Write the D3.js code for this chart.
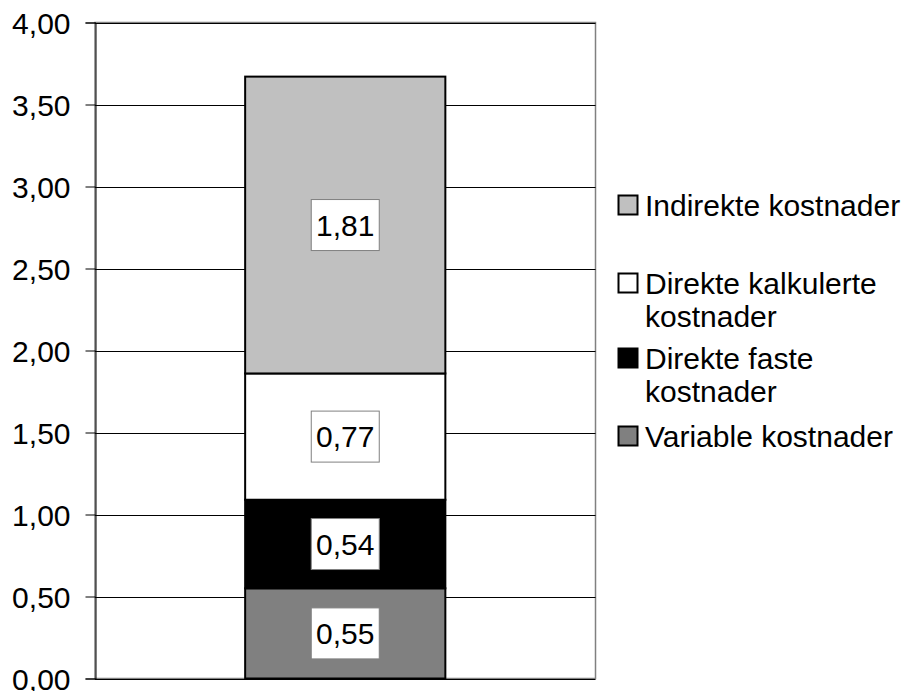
<!DOCTYPE html>
<html>
<head>
<meta charset="utf-8">
<script src="https://cdn.jsdelivr.net/npm/d3@7"></script>
<style>
  html, body { margin: 0; padding: 0; background: #fff; }
  svg { display: block; font-family: "Liberation Sans", Arial, sans-serif; }
</style>
</head>
<body>
<svg id="chart" width="903" height="691"></svg>
<script>
// Cost components, stacked bottom to top
const categories = ["Variable kostnader", "Direkte faste kostnader", "Direkte kalkulerte kostnader", "Indirekte kostnader"];
const values = [0.55, 0.54, 0.77, 1.81];
const colors = ["#808080", "#000000", "#ffffff", "#c0c0c0"];
// Legend lines, top to bottom (wrapped as drawn)
const legendOrder = [3, 2, 1, 0];
const legendLines = [["Indirekte kostnader"], ["Direkte kalkulerte", "kostnader"], ["Direkte faste", "kostnader"], ["Variable kostnader"]];
const yTicks = [0, 0.5, 1, 1.5, 2, 2.5, 3, 3.5, 4];
const group = ["Total"];

const FONT = 30;
const svg = d3.select("#chart");
const margin = { left: 95, right: 595.5, top: 22.5, bottom: 678.5 };

const locale = d3.formatLocale({ decimal: ",", thousands: " ", grouping: [3], currency: ["", " kr"] });
const fmt = locale.format(".2f");

const y = d3.scaleLinear().domain([0, 4]).range([margin.bottom, margin.top]);
const x = d3.scaleBand().domain(group).range([margin.left, margin.right]).paddingInner(0).paddingOuter(0.75);

// Plot frame
svg.append("rect")
  .attr("x", margin.left).attr("y", margin.top)
  .attr("width", margin.right - margin.left).attr("height", margin.bottom - margin.top)
  .attr("fill", "#fff").attr("stroke", "#808080").attr("stroke-width", 1.5);

// Gridlines
svg.append("g").selectAll("line").data(yTicks).join("line")
  .attr("x1", margin.left).attr("x2", margin.right)
  .attr("y1", d => Math.round(y(d)) + 0.5).attr("y2", d => Math.round(y(d)) + 0.5)
  .attr("stroke", "#000").attr("stroke-width", 1);

// Y axis
const yAxis = d3.axisLeft(y).tickValues(yTicks).tickFormat(fmt).tickSize(10).tickPadding(15);
const gy = svg.append("g").attr("transform", `translate(${margin.left + 0.5},0)`).call(yAxis);
gy.select(".domain").attr("stroke", "#000").attr("stroke-width", 1);
gy.selectAll(".tick line").attr("stroke", "#000");
gy.selectAll(".tick text")
  .attr("font-size", FONT).attr("fill", "#000")
  .attr("font-family", "'Liberation Sans', Arial, sans-serif")
  .attr("dy", "0.35em");

// Stacked segments
let acc = 0;
const segs = values.map((v, i) => { const s = { i, y0: acc, y1: acc + v, v }; acc += v; return s; });

const bars = svg.append("g");
bars.selectAll("rect").data(segs).join("rect")
  .attr("x", x("Total"))
  .attr("width", x.bandwidth())
  .attr("y", d => y(d.y1))
  .attr("height", d => y(d.y0) - y(d.y1))
  .attr("fill", d => colors[d.i])
  .attr("stroke", "#000").attr("stroke-width", 2);

// Value labels in boxes
const boxW = 68, boxH = 51;
const lab = svg.append("g").selectAll("g").data(segs).join("g")
  .attr("transform", d => `translate(${x("Total") + x.bandwidth() / 2},${(y(d.y0) + y(d.y1)) / 2})`);
lab.append("rect")
  .attr("x", -boxW / 2).attr("y", -boxH / 2).attr("width", boxW).attr("height", boxH)
  .attr("fill", "#fff").attr("stroke", "#808080").attr("stroke-width", 1);
lab.append("text")
  .attr("text-anchor", "middle").attr("dy", "0.35em")
  .attr("font-size", FONT).attr("fill", "#000")
  .text(d => fmt(d.v));

// Legend
const legendBaselines = [[216], [294, 327], [369, 402], [447]];
const lg = svg.append("g");
legendOrder.forEach((ci, k) => {
  const base = legendBaselines[k][0];
  lg.append("rect")
    .attr("x", 618.5).attr("y", base - 20.5).attr("width", 19).attr("height", 19)
    .attr("fill", colors[ci]).attr("stroke", "#000").attr("stroke-width", 2);
  legendLines[k].forEach((line, j) => {
    lg.append("text")
      .attr("x", 645).attr("y", legendBaselines[k][j])
      .attr("font-size", FONT).attr("fill", "#000")
      .text(line);
  });
});
</script>
</body>
</html>
